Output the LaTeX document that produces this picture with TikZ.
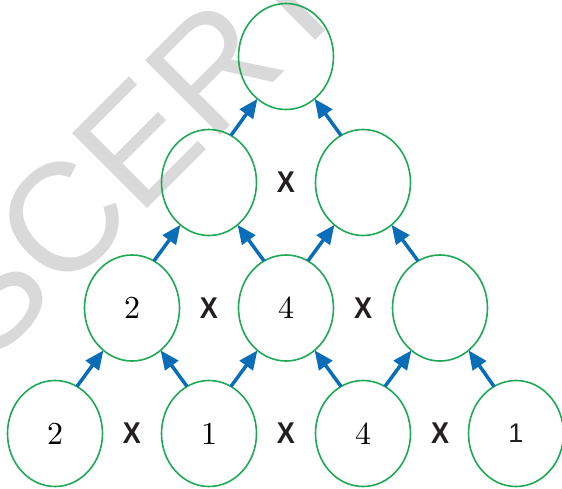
\documentclass[tikz,border=0pt]{standalone}
\usepackage{fontspec}
\usetikzlibrary{shapes.geometric,arrows.meta}
\newfontfamily\xfont{Liberation Sans}
\newfontfamily\wmfont{Liberation Sans}
\newfontfamily\digfont{lmroman10-regular}[Extension=.otf]
\definecolor{egreen}{HTML}{1FA855}
\definecolor{ablue}{HTML}{0A6DB8}
\definecolor{wmgray}{HTML}{D9D9D9}
\definecolor{xblack}{HTML}{231F20}
\begin{document}
\begin{tikzpicture}[x=1pt,y=-1pt,
  cell/.style={ellipse,draw=egreen,line width=1.6pt,minimum width=95pt,minimum height=106pt,inner sep=0pt,outer sep=0pt,font=\digfont\fontsize{32}{32}\selectfont},
  up/.style={draw=ablue,line width=3.5pt,-{Triangle[length=19pt,width=16pt]}},
  times/.style={font=\xfont\bfseries\fontsize{30}{30}\selectfont,text=xblack,inner sep=0pt,xscale=0.9}]
\useasboundingbox (0,0) rectangle (562,488);
\begin{scope}
\clip (0,0) rectangle (562,488);
\node[text=wmgray, font=\wmfont\fontsize{154}{154}\selectfont, rotate=45, anchor=base west, inner sep=0pt] (wm) at (138.5,217.5) {\llap{SC}ERT};
\end{scope}
% ellipses
\node[cell] (a1) at (286,56.5) {};
\node[cell] (b1) at (209,182.5) {};
\node[cell] (b2) at (363,182.5) {};
\node[cell] (c1) at (132,308) {2};
\node[cell] (c2) at (286,308) {4};
\node[cell] (c3) at (440,308) {};
\node[cell] (d1) at (55,433.5) {2};
\node[cell] (d2) at (209,433.5) {1};
\node[cell] (d3) at (363,433.5) {4};
\node[cell, font=\xfont\fontsize{27}{27}\selectfont, text=xblack] (d4) at (516,433.5) {1};
% times signs
\node[times] (x1) at (286,182.5) {X};
\node[times] (x2) at (209,308) {X};
\node[times] (x3) at (363,308) {X};
\node[times] (x4) at (132,433.5) {X};
\node[times] (x5) at (286,433.5) {X};
\node[times] (x6) at (440,433.5) {X};
% arrows
\draw[up] (d1.65) -- (c1.236);
\draw[up] (d2.115) -- (c1.304);
\draw[up] (d2.65) -- (c2.236);
\draw[up] (d3.115) -- (c2.304);
\draw[up] (d3.65) -- (c3.236);
\draw[up] (d4.115) -- (c3.304);
\draw[up] (c1.65) -- (b1.236);
\draw[up] (c2.115) -- (b1.304);
\draw[up] (c2.65) -- (b2.236);
\draw[up] (c3.115) -- (b2.304);
\draw[up] (b1.65) -- (a1.236);
\draw[up] (b2.115) -- (a1.304);
\end{tikzpicture}
\end{document}
